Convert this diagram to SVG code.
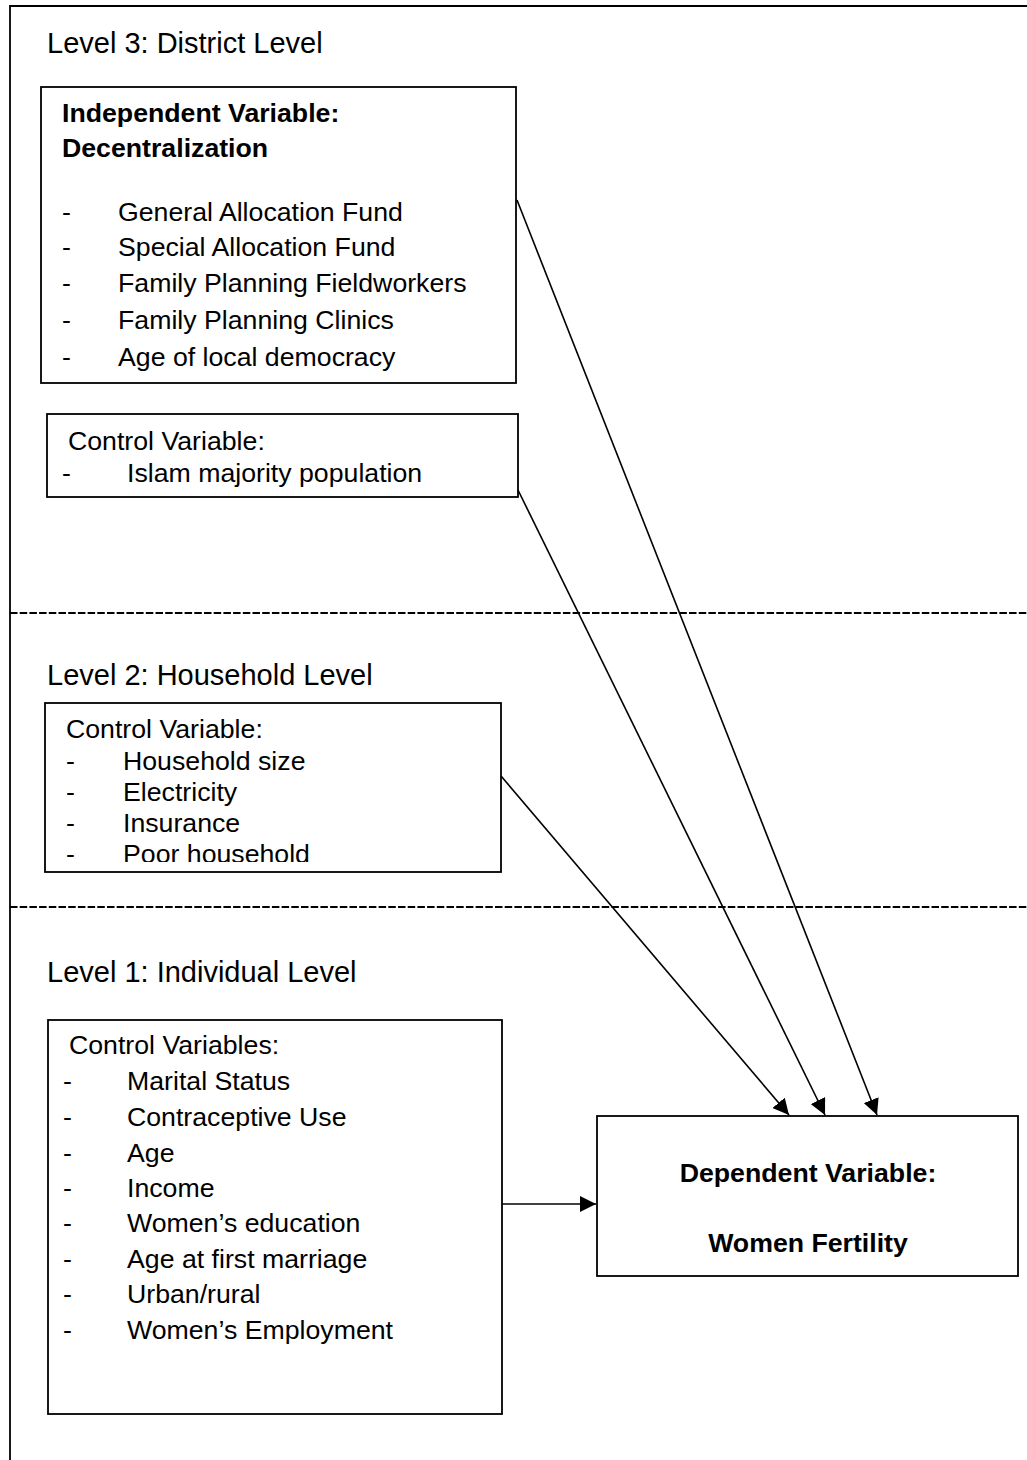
<svg xmlns="http://www.w3.org/2000/svg" width="1027" height="1460" viewBox="0 0 1027 1460">
<style>
text{font-family:"Liberation Sans",Arial,sans-serif;font-size:26.7px;fill:#000}
.h{font-size:29px}
.b{font-weight:bold}
.box{fill:#fff;stroke:#000;stroke-width:1.8}
.frame{stroke:#000;stroke-width:1.8;fill:none}
.dash{stroke:#000;stroke-width:1.8;stroke-dasharray:7.5 2.2}
.conn{stroke:#000;stroke-width:1.6;fill:none;marker-end:url(#ah)}
</style>
<defs>
<marker id="ah" markerUnits="userSpaceOnUse" markerWidth="16" markerHeight="16" viewBox="0 0 15 15" refX="15" refY="7.5" orient="auto">
<path d="M0,0 L15,7.5 L0,15 z" fill="#000"/>
</marker>
<clipPath id="hhclip"><rect x="45" y="703" width="456" height="159"/></clipPath>
</defs>
<rect width="1027" height="1460" fill="#fff"/>
<g id="frame">
<path class="frame" d="M10,1460 L10,6 L1027,6"/>
<line class="dash" x1="10" y1="613" x2="1027" y2="613"/>
<line class="dash" x1="10" y1="907" x2="1027" y2="907"/>
<text class="h" x="47" y="53">Level 3: District Level</text>
<text class="h" x="47" y="685">Level 2: Household Level</text>
<text class="h" x="47" y="982">Level 1: Individual Level</text>
</g>
<g id="independent">
<rect class="box" x="41" y="87" width="475" height="296"/>
<text class="b" x="62" y="122">Independent Variable:</text>
<text class="b" x="62" y="157">Decentralization</text>
<text x="62" y="221">-</text><text x="118" y="221">General Allocation Fund</text>
<text x="62" y="256">-</text><text x="118" y="256">Special Allocation Fund</text>
<text x="62" y="292">-</text><text x="118" y="292">Family Planning Fieldworkers</text>
<text x="62" y="329">-</text><text x="118" y="329">Family Planning Clinics</text>
<text x="62" y="366">-</text><text x="118" y="366">Age of local democracy</text>
</g>
<g id="district-control">
<rect class="box" x="47" y="414" width="471" height="83"/>
<text x="68" y="450">Control Variable:</text>
<text x="62" y="482">-</text><text x="127" y="482">Islam majority population</text>
</g>
<g id="household-control">
<rect class="box" x="45" y="703" width="456" height="169"/>
<g clip-path="url(#hhclip)">
<text x="66" y="738">Control Variable:</text>
<text x="66" y="770">-</text><text x="123" y="770">Household size</text>
<text x="66" y="801">-</text><text x="123" y="801">Electricity</text>
<text x="66" y="832">-</text><text x="123" y="832">Insurance</text>
<text x="66" y="863">-</text><text x="123" y="863">Poor household</text>
</g>
</g>
<g id="individual-control">
<rect class="box" x="48" y="1020" width="454" height="394"/>
<text x="69" y="1054">Control Variables:</text>
<text x="63" y="1090">-</text><text x="127" y="1090">Marital Status</text>
<text x="63" y="1126">-</text><text x="127" y="1126">Contraceptive Use</text>
<text x="63" y="1162">-</text><text x="127" y="1162">Age</text>
<text x="63" y="1197">-</text><text x="127" y="1197">Income</text>
<text x="63" y="1232">-</text><text x="127" y="1232">Women’s education</text>
<text x="63" y="1268">-</text><text x="127" y="1268">Age at first marriage</text>
<text x="63" y="1303">-</text><text x="127" y="1303">Urban/rural</text>
<text x="63" y="1339">-</text><text x="127" y="1339">Women’s Employment</text>
</g>
<g id="dependent">
<rect class="box" x="597" y="1116" width="421" height="160"/>
<text class="b" x="808" y="1182" text-anchor="middle">Dependent Variable:</text>
<text class="b" x="808" y="1252" text-anchor="middle">Women Fertility</text>
</g>
<g id="connectors">
<line class="conn" x1="517" y1="200" x2="877" y2="1115"/>
<line class="conn" x1="518" y1="490" x2="825" y2="1115"/>
<line class="conn" x1="501" y1="776" x2="789" y2="1115"/>
<line class="conn" x1="502" y1="1204" x2="596" y2="1204"/>
</g>
</svg>
